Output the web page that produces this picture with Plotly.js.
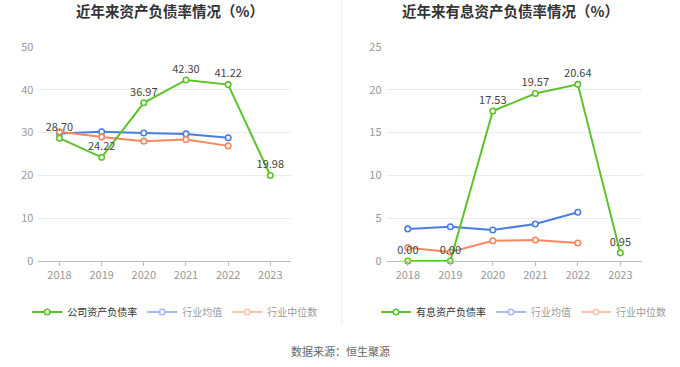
<!DOCTYPE html>
<html><head><meta charset="utf-8">
<script src="https://cdn.plot.ly/plotly-3.0.1.min.js"></script>
<style>html,body{margin:0;padding:0;background:#fff;}#c{width:680px;height:367px;}</style>
</head><body><div id="c"></div>
<script>
const years = ['2018','2019','2020','2021','2022','2023'];
const yearsInd = ['2018','2019','2020','2021','2022'];
const leftCompany = [28.70, 24.22, 36.97, 42.30, 41.22, 19.98];
const leftIndAvg = [29.8, 30.2, 29.9, 29.7, 28.8];
const leftIndMed = [30.2, 29.0, 28.0, 28.4, 26.9];
const rightCompany = [0.00, 0.00, 17.53, 19.57, 20.64, 0.95];
const rightIndAvg = [3.75, 4.0, 3.62, 4.32, 5.69];
const rightIndMed = [1.56, 1.05, 2.37, 2.45, 2.10];
const leftNames = ['公司资产负债率','行业均值','行业中位数'];
const rightNames = ['有息资产负债率','行业均值','行业中位数'];
const titles = ['近年来资产负债率情况（%）','近年来有息资产负债率情况（%）'];
const source = '数据来源：恒生聚源';

const GREEN = '#5cc22a', BLUE = '#4a7de2', ORANGE = '#f8875f';
const FONT = '"Noto Sans CJK SC", "Noto Sans", sans-serif';

function line(x, y, color, name, xa, ya, lg, opts) {
  return Object.assign({
    type: 'scatter', mode: 'lines+markers', x: x, y: y, name: name,
    xaxis: xa, yaxis: ya, legend: lg, cliponaxis: false,
    line: {color: color, width: 2},
    marker: {symbol: 'circle', size: 5.5, color: '#fff', line: {color: color, width: 1.6}},
    hoverinfo: 'skip'
  }, opts || {});
}
function fmt(a){ return a.map(v => v.toFixed(2)); }

const traces = [
  line(yearsInd, leftIndAvg, BLUE, leftNames[1], 'x', 'y', 'legend', {showlegend: false}),
  line(yearsInd, leftIndMed, ORANGE, leftNames[2], 'x', 'y', 'legend', {showlegend: false}),
  line(years, leftCompany, GREEN, leftNames[0], 'x', 'y', 'legend', {mode: 'lines+markers+text', text: fmt(leftCompany), textposition: 'top center', textfont: {size: 11, color: '#444', family: FONT}}),
  line(yearsInd, leftIndAvg, BLUE, leftNames[1], 'x', 'y', 'legend', {visible: 'legendonly'}),
  line(yearsInd, leftIndMed, ORANGE, leftNames[2], 'x', 'y', 'legend', {visible: 'legendonly'}),
  line(yearsInd, rightIndAvg, BLUE, rightNames[1], 'x2', 'y2', 'legend2', {showlegend: false}),
  line(yearsInd, rightIndMed, ORANGE, rightNames[2], 'x2', 'y2', 'legend2', {showlegend: false}),
  line(years, rightCompany, GREEN, rightNames[0], 'x2', 'y2', 'legend2', {mode: 'lines+markers+text', text: fmt(rightCompany), textposition: 'top center', textfont: {size: 11, color: '#444', family: FONT}}),
  line(yearsInd, rightIndAvg, BLUE, rightNames[1], 'x2', 'y2', 'legend2', {visible: 'legendonly'}),
  line(yearsInd, rightIndMed, ORANGE, rightNames[2], 'x2', 'y2', 'legend2', {visible: 'legendonly'})
];

function xaxis(dom, anchor) {
  return {domain: dom, anchor: anchor, type: 'category', categoryorder: 'array', categoryarray: years,
    range: [-0.5, 5.5], showgrid: false, showline: true, linecolor: '#bbb', linewidth: 1,
    ticks: 'outside', ticklen: 4, tickcolor: '#bbb', zeroline: false,
    tickfont: {size: 11, color: '#999', family: FONT}, fixedrange: true};
}
function yaxis(dom, anchor, max, dt) {
  return {domain: dom, anchor: anchor, range: [0, max], dtick: dt, showgrid: true, gridcolor: '#e6ebf5',
    gridwidth: 1, zeroline: false, showline: false, ticks: '', ticklabelstandoff: 4,
    tickfont: {size: 11, color: '#999', family: FONT}, fixedrange: true};
}
const legendBase = {orientation: 'h', xanchor: 'left', yanchor: 'middle', y: 0.15, yref: 'paper',
  font: {size: 10, color: '#333', family: FONT}, bgcolor: 'rgba(0,0,0,0)', itemwidth: 30,
  itemclick: false, itemdoubleclick: false, tracegroupgap: 0};

const layout = {
  width: 680, height: 367, margin: {l: 0, r: 0, t: 0, b: 0},
  paper_bgcolor: '#fff', plot_bgcolor: '#fff', showlegend: true,
  font: {family: FONT},
  xaxis: xaxis([0.0565, 0.4285], 'y'),
  yaxis: yaxis([0.2888, 0.8719], 'x', 50, 10),
  xaxis2: xaxis([0.5685, 0.9435], 'y2'),
  yaxis2: yaxis([0.2888, 0.8719], 'x2', 25, 5),
  legend: Object.assign({}, legendBase, {x: 0.04}),
  legend2: Object.assign({}, legendBase, {x: 0.553}),
  shapes: [{type: 'line', xref: 'paper', yref: 'paper', x0: 0.5025, x1: 0.5025, y0: 0.115, y1: 1,
    line: {color: '#eeeeee', width: 1}}],
  annotations: [
    {text: '<b>' + titles[0] + '</b>', xref: 'paper', yref: 'paper', x: 0.25, y: 0.972, xanchor: 'center', yanchor: 'middle', showarrow: false, font: {size: 14.5, color: '#333', family: FONT}},
    {text: '<b>' + titles[1] + '</b>', xref: 'paper', yref: 'paper', x: 0.75, y: 0.972, xanchor: 'center', yanchor: 'middle', showarrow: false, font: {size: 14.5, color: '#333', family: FONT}},
    {text: source, xref: 'paper', yref: 'paper', x: 0.5, y: 0.043, xanchor: 'center', yanchor: 'middle', showarrow: false, font: {size: 11, color: '#666', family: FONT}}
  ]
};
Plotly.newPlot('c', traces, layout, {staticPlot: true, displayModeBar: false});
</script></body></html>
